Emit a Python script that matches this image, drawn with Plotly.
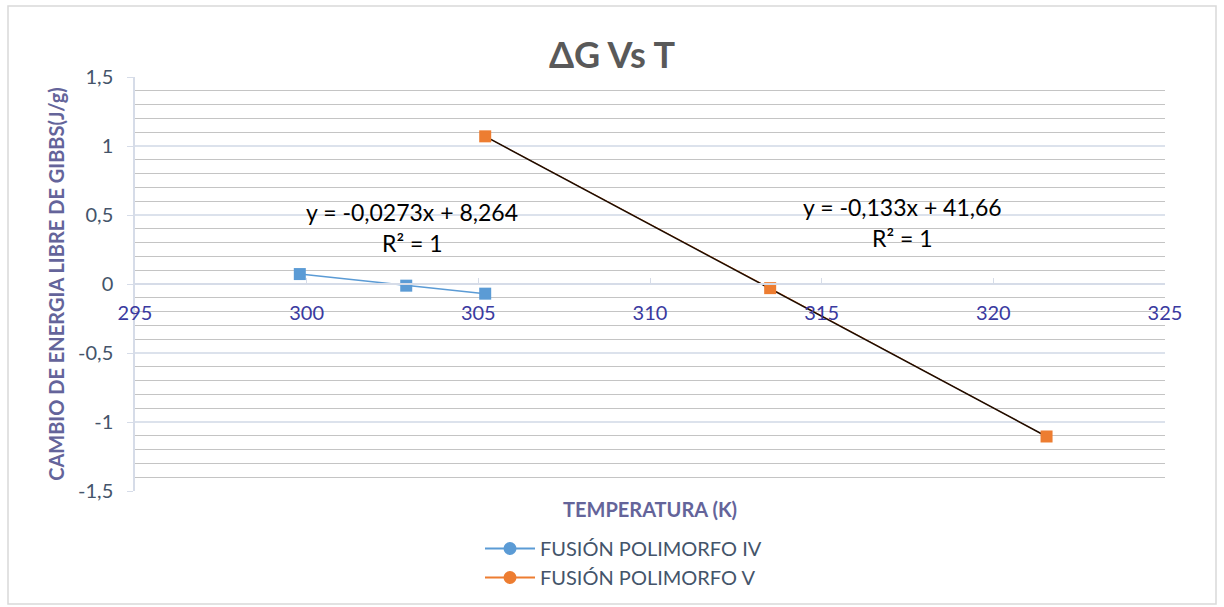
import plotly.graph_objects as go

# Data
t_iv = [299.8, 302.9, 305.2]
g_iv = [0.072, -0.012, -0.070]
t_v = [305.2, 313.5, 321.55]
g_v = [1.07, -0.03, -1.105]

x_ticks = [295, 300, 305, 310, 315, 320, 325]
y_ticks = [1.5, 1, 0.5, 0, -0.5, -1, -1.5]
y_tick_text = ["1,5", "1", "0,5", "0", "-0,5", "-1", "-1,5"]

eq_iv = ["y = -0,0273x + 8,264", "R² = 1"]
eq_v = ["y = -0,133x + 41,66", "R² = 1"]

BLUE = "#5B9BD5"
ORANGE = "#ED7D31"
AXCOL = "#64649A"
FONT = "Lato, 'Open Sans', sans-serif"

W, H = 1224, 607
L, R, T, B = 135, 59, 77, 116

fig = go.Figure()

fig.add_trace(go.Scatter(x=t_iv, y=g_iv, mode="lines+markers",
                         line=dict(color=BLUE, width=1.5),
                         marker=dict(symbol="square", size=12, color=BLUE),
                         showlegend=False))
fig.add_trace(go.Scatter(x=t_v, y=g_v, mode="lines",
                         line=dict(color=ORANGE, width=1),
                         showlegend=False))
# trendline (black) through series V
fig.add_trace(go.Scatter(x=[t_v[0], t_v[-1]], y=[g_v[0], g_v[-1]], mode="lines",
                         line=dict(color="#1E0C00", width=1.5),
                         showlegend=False))
fig.add_trace(go.Scatter(x=t_v, y=g_v, mode="markers",
                         marker=dict(symbol="square", size=12, color=ORANGE),
                         showlegend=False))

# legend-only entries
fig.add_trace(go.Scatter(x=[None], y=[None], mode="lines+markers",
                         name="FUSIÓN POLIMORFO IV",
                         line=dict(color=BLUE, width=2),
                         marker=dict(symbol="circle", size=13, color=BLUE)))
fig.add_trace(go.Scatter(x=[None], y=[None], mode="lines+markers",
                         name="FUSIÓN POLIMORFO V",
                         line=dict(color=ORANGE, width=2),
                         marker=dict(symbol="circle", size=13, color=ORANGE)))

ph = H - T - B
pw = W - L - R

def px_to_paper_y(py):
    return (H - B - py) / ph

def px_to_paper_x(px):
    return (px - L) / pw

def eq_ann(text, px, py):
    return dict(text=text, xref="paper", yref="paper", x=px_to_paper_x(px),
                y=px_to_paper_y(py), xanchor="center", yanchor="middle",
                showarrow=False, font=dict(family=FONT, size=23, color="#000000"))

annotations = [
    dict(text="<b>TEMPERATURA (K)</b>", xref="paper", yref="paper",
         x=0.5, y=px_to_paper_y(509), showarrow=False,
         xanchor="center", yanchor="middle",
         font=dict(family=FONT, size=20, color=AXCOL)),
    eq_ann(eq_iv[0], 412, 212),
    eq_ann(eq_iv[1], 412, 243),
    eq_ann(eq_v[0], 902, 207),
    eq_ann(eq_v[1], 902, 238),
]

fig.update_layout(
    width=W, height=H,
    margin=dict(l=L, r=R, t=T, b=B, autoexpand=False),
    paper_bgcolor="white", plot_bgcolor="white",
    font=dict(family=FONT),
    title=dict(text="<b>ΔG Vs T</b>", xref="container", yref="container",
               x=0.5, y=1 - 55 / H, xanchor="center", yanchor="middle",
               font=dict(family=FONT, size=36, color="#595959")),
    xaxis=dict(range=[295, 325], tickvals=x_ticks, ticktext=[str(v) for v in x_ticks],
               anchor="free", position=0.5, showgrid=False, zeroline=False,
               showline=True, linecolor="#D6DCE8", linewidth=1.5,
               ticks="inside", ticklen=5, tickcolor="#D6DCE8",
               tickfont=dict(family=FONT, size=20, color="#3A3AA0"),
               ticklabelstandoff=11),
    yaxis=dict(range=[-1.5, 1.5], tickvals=y_ticks, ticktext=y_tick_text,
               showgrid=True, gridcolor="#DCE2EC", gridwidth=1.5, zeroline=False,
               showline=True, linecolor="#D6DCE8", linewidth=1.5,
               ticks="outside", ticklen=6, tickcolor="#D6DCE8",
               tickfont=dict(family=FONT, size=20, color="#44546A"),
               ticklabelstandoff=10,
               minor=dict(dtick=0.1, tick0=0, showgrid=True, gridcolor="#C4C4C4", gridwidth=1),
               title=dict(text="<b>CAMBIO DE ENERGIA LIBRE DE GIBBS(J/g)</b>",
                          font=dict(family=FONT, size=20, color=AXCOL), standoff=8)),
    legend=dict(orientation="v", x=px_to_paper_x(480), y=px_to_paper_y(529),
                xanchor="left", yanchor="top", bgcolor="rgba(0,0,0,0)",
                font=dict(family=FONT, size=20, color="#44546A"),
                itemwidth=50, tracegroupgap=0),
    annotations=annotations,
    shapes=[dict(type="rect", xref="paper", yref="paper",
                 x0=px_to_paper_x(8), x1=px_to_paper_x(1216),
                 y0=px_to_paper_y(604), y1=px_to_paper_y(6),
                 line=dict(color="#D9D9D9", width=1.5), layer="below")],
)

fig.write_html("out.html")
